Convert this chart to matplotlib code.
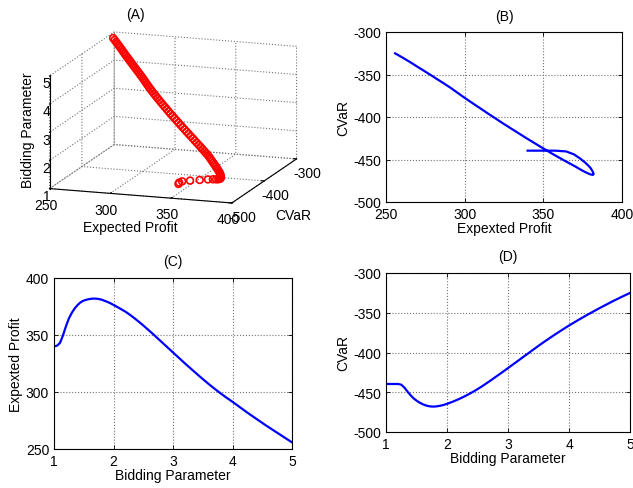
import matplotlib
matplotlib.use("Agg")
import matplotlib.pyplot as plt
import numpy as np

plt.rcParams['font.family'] = ['Liberation Sans', 'DejaVu Sans']
plt.rcParams['font.size'] = 10
plt.rcParams['axes.unicode_minus'] = False

bidding = [1.00, 1.05, 1.10, 1.15, 1.20, 1.25, 1.30, 1.35, 1.40, 1.45,
           1.50, 1.55, 1.60, 1.65, 1.70, 1.75, 1.80, 1.85, 1.90, 1.95,
           2.00, 2.05, 2.10, 2.15, 2.20, 2.25, 2.30, 2.35, 2.40, 2.45,
           2.50, 2.55, 2.60, 2.65, 2.70, 2.75, 2.80, 2.85, 2.90, 2.95,
           3.00, 3.05, 3.10, 3.15, 3.20, 3.25, 3.30, 3.35, 3.40, 3.45,
           3.50, 3.55, 3.60, 3.65, 3.70, 3.75, 3.80, 3.85, 3.90, 3.95,
           4.00, 4.05, 4.10, 4.15, 4.20, 4.25, 4.30, 4.35, 4.40, 4.45,
           4.50, 4.55, 4.60, 4.65, 4.70, 4.75, 4.80, 4.85, 4.90, 4.95,
           5.00]

expected_profit = [340.0, 340.6, 343.0, 349.5, 357.5, 364.5, 369.5, 373.5, 376.5, 378.8,
                   380.2, 381.0, 381.6, 381.9, 381.9, 381.6, 381.0, 380.0, 379.0, 377.8,
                   376.4, 375.0, 373.5, 372.0, 370.5, 368.7, 366.8, 364.8, 362.7, 360.6,
                   358.4, 356.1, 353.8, 351.5, 349.1, 346.7, 344.3, 341.9, 339.5, 337.1,
                   334.7, 332.3, 329.9, 327.5, 325.1, 322.8, 320.5, 318.2, 315.9, 313.6,
                   311.4, 309.2, 307.0, 304.9, 302.8, 300.8, 298.8, 296.9, 295.0, 293.2,
                   291.4, 289.5, 287.6, 285.7, 283.8, 281.9, 280.1, 278.3, 276.5, 274.7,
                   272.9, 271.1, 269.4, 267.7, 266.0, 264.3, 262.6, 260.9, 259.2, 257.5,
                   255.8]

cvar = [-439.6, -439.6, -439.6, -439.6, -439.6, -440.5, -444.0, -449.0, -453.5, -457.5,
        -460.5, -463.0, -465.0, -466.5, -467.5, -468.0, -468.0, -467.5, -466.8, -465.8,
        -464.6, -463.2, -461.7, -460.1, -458.4, -456.6, -454.7, -452.7, -450.6, -448.4,
        -446.1, -443.7, -441.2, -438.6, -436.0, -433.3, -430.6, -427.9, -425.2, -422.4,
        -419.6, -416.8, -414.0, -411.2, -408.4, -405.6, -402.8, -400.0, -397.2, -394.4,
        -391.6, -388.9, -386.2, -383.6, -381.0, -378.4, -375.9, -373.4, -370.9, -368.5,
        -366.1, -363.8, -361.5, -359.2, -357.0, -354.8, -352.6, -350.5, -348.4, -346.3,
        -344.2, -342.2, -340.2, -338.2, -336.2, -334.3, -332.4, -330.5, -328.7, -326.9,
        -325.1]

profit_ticks = [250, 300, 350, 400]
cvar_ticks = [-500, -450, -400, -350, -300]
cvar_ticks_3d = [-500, -400, -300]
bid_ticks = [1, 2, 3, 4, 5]

W, H = 633, 489
fig = plt.figure(figsize=(W / 100, H / 100), dpi=100)

def rect(l, t, r, b):
    return [l / W, 1 - b / H, (r - l) / W, (b - t) / H]

def style2d(ax):
    ax.grid(True, linestyle=':', color='0.45', linewidth=0.8)
    ax.tick_params(direction='in', length=3, top=True, right=True, width=0.6)
    for s in ax.spines.values():
        s.set_linewidth(0.8)

line_kw = dict(color='#0000ff', linewidth=1.6)

# (B)
axB = fig.add_axes(rect(386, 33, 622, 203))
axB.plot(expected_profit, cvar, **line_kw)
axB.set_xlim(250, 400)
axB.set_ylim(-500, -300)
axB.set_xticks(profit_ticks)
axB.set_yticks(cvar_ticks)
axB.set_xlabel('Expexted Profit', labelpad=0)
axB.set_ylabel('CVaR', labelpad=2)
axB.set_title('(B)', fontsize=10, pad=9)
style2d(axB)

# (C)
axC = fig.add_axes(rect(54, 279, 292, 450))
axC.plot(bidding, expected_profit, **line_kw)
axC.set_xlim(1, 5)
axC.set_ylim(250, 400)
axC.set_xticks(bid_ticks)
axC.set_yticks([250, 300, 350, 400])
axC.set_xlabel('Bidding Parameter', labelpad=0)
axC.set_ylabel('Expexted Profit', labelpad=2)
axC.set_title('(C)', fontsize=10, pad=9)
style2d(axC)

# (D)
axD = fig.add_axes(rect(386, 274, 630, 433))
axD.plot(bidding, cvar, **line_kw)
axD.set_xlim(1, 5)
axD.set_ylim(-500, -300)
axD.set_xticks(bid_ticks)
axD.set_yticks(cvar_ticks)
axD.set_xlabel('Bidding Parameter', labelpad=0)
axD.set_ylabel('CVaR', labelpad=2)
axD.set_title('(D)', fontsize=10, pad=9)
style2d(axD)

# (A) 3D
axA = fig.add_axes(rect(20, 9, 320, 234), projection='3d', proj_type='ortho')
axA.scatter(expected_profit, cvar, bidding, facecolors='none', edgecolors='red',
            s=24, linewidths=1.2, depthshade=False)
axA.set_xlim(250, 400)
axA.set_ylim(-500, -300)
axA.set_zlim(1, 5)
axA.set_xticks(profit_ticks)
axA.set_yticks(cvar_ticks_3d)
axA.set_zticks(bid_ticks)
axA.view_init(elev=13.4, azim=-71.2)
axA.set_box_aspect((188, 196, 113), zoom=1.3)
axA.zaxis.set_ticks_position('lower')
axA.zaxis.set_label_position('lower')
for axis in (axA.xaxis, axA.yaxis, axA.zaxis):
    axis.set_pane_color((1, 1, 1, 0))
    axis.pane.set_edgecolor('none')
    axis.line.set_color('k')
    axis.line.set_linewidth(0.8)
    axis._axinfo['grid'].update(linestyle=':', color='0.45', linewidth=0.8)
    axis._axinfo['tick'].update(inward_factor=0.0, outward_factor=0.2)
axA.tick_params(axis='x', pad=-3)
axA.tick_params(axis='y', pad=-3)
axA.tick_params(axis='z', pad=-7)
fig.text(135 / W, 1 - 15 / H, '(A)', ha='center', va='center', fontsize=10)
fig.text(130 / W, 1 - 228 / H, 'Expected Profit', ha='center', va='center', fontsize=10)
fig.text(293 / W, 1 - 216 / H, 'CVaR', ha='center', va='center', fontsize=10)
fig.text(28 / W, 1 - 130 / H, 'Bidding Parameter', ha='center', va='center',
         rotation=90, fontsize=10)

fig.savefig('out.png', dpi=100)
